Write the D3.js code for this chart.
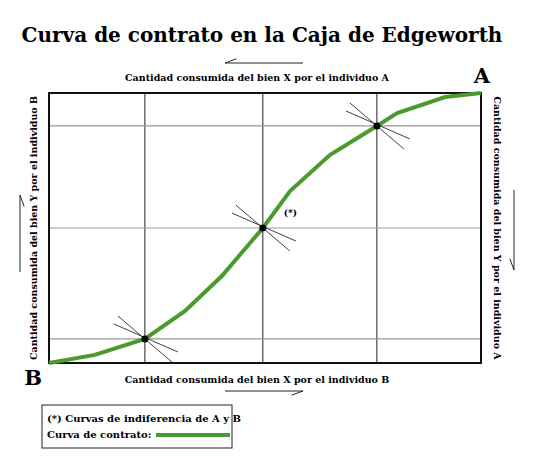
<!DOCTYPE html>
<html><head><meta charset="utf-8">
<script src="https://cdn.jsdelivr.net/npm/d3@7"></script>
<style>body{margin:0;background:#fff}</style>
</head><body><div id="chart"></div>
<script>
// curva de contrato (coordenadas del individuo B, 0-100)
const curveX = [0, 10.6, 22.2, 31.5, 40, 49.5, 55.8, 65, 75.9, 80.6, 91.7, 100]
const curveY = [0, 3, 8.9, 19.3, 32.2, 50, 63.7, 77, 87.8, 92.6, 98.5, 100]
// puntos de tangencia
const tangX = [22.2, 49.5, 75.9]
const tangY = [8.9, 50, 87.8]

const svg = d3.select('#chart').append('svg')
  .attr('width', 534).attr('height', 467)
  .style('font-family', 'DejaVu Serif').style('font-weight', 'bold')

const x = d3.scaleLinear().domain([0, 100]).range([49, 481])
const y = d3.scaleLinear().domain([0, 100]).range([363, 93])

// grid
svg.selectAll('.vl').data(tangX).enter().append('line')
  .attr('x1', d => x(d)).attr('x2', d => x(d)).attr('y1', y(0)).attr('y2', y(100))
  .attr('stroke', '#222').attr('stroke-width', 1)
svg.selectAll('.hl').data(tangY).enter().append('line')
  .attr('y1', d => y(d)).attr('y2', d => y(d)).attr('x1', x(0)).attr('x2', x(100))
  .attr('stroke', '#999').attr('stroke-width', 1.2)

svg.append('rect').attr('x', x(0)).attr('y', y(100))
  .attr('width', x(100) - x(0)).attr('height', y(0) - y(100))
  .attr('fill', 'none').attr('stroke', '#111').attr('stroke-width', 2)

const pts = curveX.map((v, i) => [v, curveY[i]])
svg.append('path').datum(pts)
  .attr('d', d3.line().x(d => x(d[0])).y(d => y(d[1])))
  .attr('fill', 'none').attr('stroke', '#4a9a2e').attr('stroke-width', 4)

// curvas de indiferencia (tangentes)
const tangLines = [[-31, -15, 33, 13], [-27, -23, 27, 23]]
tangX.forEach((tx, i) => {
  const cx = x(tx), cy = y(tangY[i])
  tangLines.forEach(t => {
    svg.append('line').attr('x1', cx + t[0]).attr('y1', cy + t[1])
      .attr('x2', cx + t[2]).attr('y2', cy + t[3])
      .attr('stroke', '#111').attr('stroke-width', 0.8)
  })
  svg.append('circle').attr('cx', cx).attr('cy', cy).attr('r', 3.5).attr('fill', '#000')
})
svg.append('text').attr('x', x(49.5) + 21).attr('y', y(50) - 12).attr('font-size', 9).text('(*)')

// textos
svg.append('text').attr('x', 262).attr('y', 42).attr('text-anchor', 'middle')
  .attr('font-size', 20).text('Curva de contrato en la Caja de Edgeworth')
svg.append('text').attr('x', 257).attr('y', 81).attr('text-anchor', 'middle')
  .attr('font-size', 9.5).text('Cantidad consumida del bien X por el individuo A')
svg.append('text').attr('x', 257).attr('y', 383).attr('text-anchor', 'middle')
  .attr('font-size', 9.5).text('Cantidad consumida del bien X por el individuo B')
svg.append('text').attr('transform', 'translate(37,228) rotate(-90)').attr('text-anchor', 'middle')
  .attr('font-size', 9.5).text('Cantidad consumida del bien Y por el individuo B')
svg.append('text').attr('transform', 'translate(494,228) rotate(90)').attr('text-anchor', 'middle')
  .attr('font-size', 9.5).text('Cantidad consumida del bien Y por el individuo A')
svg.append('text').attr('x', 482).attr('y', 83).attr('text-anchor', 'middle').attr('font-size', 21).text('A')
svg.append('text').attr('x', 33).attr('y', 385).attr('text-anchor', 'middle').attr('font-size', 21).text('B')

// flechas (medias puntas)
const arrows = [
  [303, 63, 225, 63], [225, 391, 303, 391], [20, 272, 20, 195], [514, 190, 514, 270]
]
arrows.forEach(a => {
  const ang = Math.atan2(a[3] - a[1], a[2] - a[0])
  const bx = a[2] - 12 * Math.cos(ang - 0.35), by = a[3] - 12 * Math.sin(ang - 0.35)
  svg.append('path').attr('d', `M${a[0]},${a[1]}L${a[2]},${a[3]}L${bx},${by}`)
    .attr('fill', 'none').attr('stroke', '#222').attr('stroke-width', 1)
})

// leyenda
svg.append('rect').attr('x', 42).attr('y', 405).attr('width', 190).attr('height', 43)
  .attr('fill', '#fff').attr('stroke', '#222').attr('stroke-width', 1)
svg.append('text').attr('x', 47).attr('y', 422).attr('font-size', 10).text('(*) Curvas de indiferencia de A y B')
svg.append('text').attr('x', 47).attr('y', 438).attr('font-size', 10).text('Curva de contrato:')
svg.append('line').attr('x1', 156).attr('x2', 230).attr('y1', 435).attr('y2', 435)
  .attr('stroke', '#4a9a2e').attr('stroke-width', 4)
</script></body></html>
